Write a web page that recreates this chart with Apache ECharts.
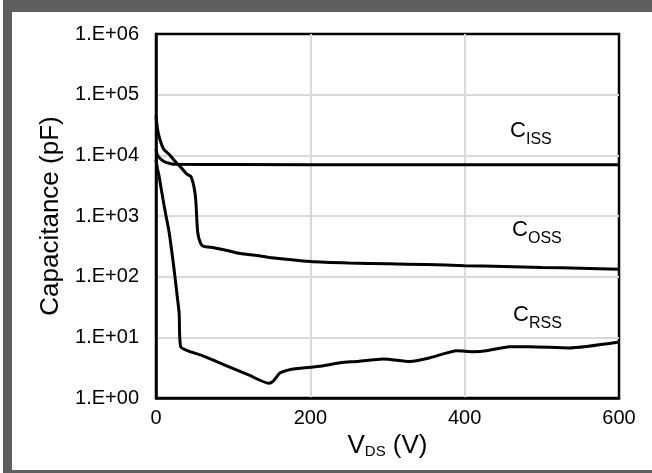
<!DOCTYPE html>
<html>
<head>
<meta charset="utf-8">
<script src="https://cdn.jsdelivr.net/npm/echarts@6/dist/echarts.min.js"></script>
<style>
  html, body { margin: 0; padding: 0; background: #fff; }
  #wrap { position: relative; width: 652px; height: 473px; overflow: hidden; }
  #chart { position: absolute; left: 0; top: 0; width: 652px; height: 473px; }
  .frame { position: absolute; background: #5f5f5f; }
</style>
</head>
<body>
<div id="wrap">
  <div id="chart"></div>
  <div class="frame" style="left:3px;top:0;width:649px;height:12px"></div>
  <div class="frame" style="left:3px;top:0;width:9px;height:473px"></div>
  <div class="frame" style="left:3px;top:470px;width:649px;height:3px"></div>
</div>
<script>
// V_DS (V) and capacitance (pF)
var cissV = [0, 1.5, 4, 8, 12, 18, 25, 100, 300, 600]
var cissC = [12600, 10400, 9200, 8300, 7700, 7350, 7100, 7050, 7000, 7000]

var cossV = [0, 2, 5, 10, 17, 25, 30, 40, 45, 49, 51.5, 54, 58, 62, 75, 92, 109, 135, 150, 200, 250, 300, 350, 400, 450, 500, 550, 600]
var cossC = [45000, 27000, 18400, 12600, 10400, 7900, 6800, 4900, 4500, 3100, 1870, 540, 350, 315, 300, 270, 240, 220, 205, 178, 168, 163, 158, 152, 147, 142, 138, 133]

var crssV = [0, 2, 4, 9, 13, 17, 23, 28, 30, 32, 60, 90, 120, 146, 152, 161, 178, 204, 217, 239, 260, 295, 329, 355, 390, 411, 428, 458, 484, 535, 600]
var crssC = [8500, 6000, 4500, 1900, 1000, 540, 146, 42, 25, 7.0, 5.0, 3.46, 2.4, 1.75, 1.9, 2.6, 3.0, 3.25, 3.4, 3.8, 4.0, 4.4, 4.0, 4.6, 6.0, 5.8, 6.0, 7.0, 7.0, 6.7, 8.4]

var yTickLabels = ['1.E+00', '1.E+01', '1.E+02', '1.E+03', '1.E+04', '1.E+05', '1.E+06']
var xTicks = [0, 200, 400, 600]

function pairs(xs, ys) {
  return xs.map(function (x, i) { return [x, ys[i]] })
}

var chart = echarts.init(document.getElementById('chart'), null, { renderer: 'canvas' })
var family = '"Liberation Sans", Arial, sans-serif'

function curve(name, xs, ys) {
  return {
    name: name,
    type: 'line',
    data: pairs(xs, ys),
    symbol: 'none',
    smooth: 0.2,
    lineStyle: { color: '#000', width: 3 },
    z: 5
  }
}

// big "C" plus a smaller subscript, placed as two plain texts
function capLabel(sub, left, baseline) {
  return [
    {
      type: 'text',
      x: left,
      y: baseline,
      z: 10,
      style: { text: 'C', fill: '#000', fontSize: 22, fontFamily: family, verticalAlign: 'bottom' }
    },
    {
      type: 'text',
      x: left + 16,
      y: baseline + 6,
      z: 10,
      style: { text: sub, fill: '#000', fontSize: 16, fontFamily: family, verticalAlign: 'bottom' }
    }
  ]
}

chart.setOption({
  animation: false,
  backgroundColor: '#fff',
  grid: {
    left: 156,
    right: 33,
    top: 34,
    bottom: 75,
    show: true,
    borderColor: '#000',
    borderWidth: 2.5
  },
  xAxis: {
    type: 'value',
    min: xTicks[0],
    max: xTicks[xTicks.length - 1],
    interval: 200,
    name: '{a|V}{b|DS}{a| (V)}',
    nameLocation: 'middle',
    nameGap: 33,
    nameTextStyle: {
      color: '#000',
      rich: {
        a: { fontSize: 26, fontFamily: family, lineHeight: 26, verticalAlign: 'bottom', color: '#000' },
        b: { fontSize: 15, fontFamily: family, lineHeight: 14, verticalAlign: 'bottom', color: '#000' }
      }
    },
    axisLine: { lineStyle: { color: '#000', width: 2.5 } },
    axisTick: { show: false },
    axisLabel: { color: '#000', fontSize: 20, fontFamily: family, margin: 10 },
    splitLine: { showMinLine: false, showMaxLine: false, lineStyle: { color: '#d9d9d9', width: 2 } }
  },
  yAxis: {
    type: 'log',
    logBase: 10,
    min: 1,
    max: 1e6,
    name: 'Capacitance (pF)',
    nameLocation: 'middle',
    nameRotate: 90,
    nameGap: 90,
    nameTextStyle: { color: '#000', fontSize: 26, fontFamily: family },
    axisLine: { lineStyle: { color: '#000', width: 2.5 } },
    axisTick: { show: false },
    axisLabel: {
      color: '#000',
      fontSize: 20,
      fontFamily: family,
      margin: 17,
      formatter: function (v) {
        return yTickLabels[Math.round(Math.log10(v))]
      }
    },
    splitLine: { showMinLine: false, showMaxLine: false, lineStyle: { color: '#d9d9d9', width: 2 } },
    minorSplitLine: { show: false }
  },
  series: [
    curve('Ciss', cissV, cissC),
    curve('Coss', cossV, cossC),
    curve('Crss', crssV, crssC)
  ],
  graphic: [].concat(
    capLabel('ISS', 510, 142),
    capLabel('OSS', 512, 241),
    capLabel('RSS', 513, 326)
  )
})
</script>
</body>
</html>
